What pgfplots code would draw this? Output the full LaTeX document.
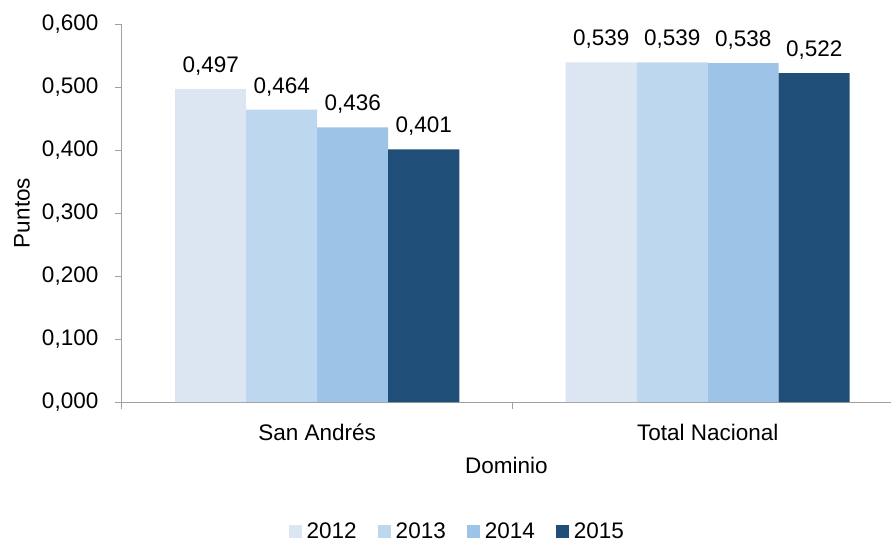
\documentclass[border=0pt]{standalone}
\usepackage{pgfplots}
\pgfplotsset{compat=1.18}
\usepackage{fontspec}
\setmainfont{Liberation Sans}
\definecolor{c12}{HTML}{DCE6F2}
\definecolor{c13}{HTML}{BDD7EE}
\definecolor{c14}{HTML}{9DC3E6}
\definecolor{c15}{HTML}{1F4E79}
\definecolor{axgray}{HTML}{A0A0A0}
\begin{document}
\fontsize{22.5bp}{27bp}\selectfont
\begin{tikzpicture}
\path[use as bounding box] (-122bp,-140bp) rectangle (769bp,402bp);
\begin{axis}[
  at={(0,0)}, anchor=south west,
  scale only axis, width=769bp, height=378bp,
  font=\fontsize{22.5bp}{27bp}\selectfont,
  xmin=-0.5, xmax=1.4693, ymin=0, ymax=0.6,
  ybar=0pt, bar width=71bp,
  axis x line*=bottom, axis y line*=left,
  axis line style={draw=axgray, line width=1bp},
  tick align=outside, major tick length=7bp,
  tick style={draw=axgray, line width=1bp},
  /pgf/number format/assume math mode=true,
  ytick={0,0.1,0.2,0.3,0.4,0.5,0.6},
  y tick label style={xshift=-9bp, /pgf/number format/fixed, /pgf/number format/fixed zerofill, /pgf/number format/precision=3, /pgf/number format/use comma},
  xtick={-0.5,0.5}, xticklabels={},
  extra x ticks={0,1},
  extra x tick labels={San Andrés, Total Nacional},
  extra x tick style={major tick length=0pt, x tick label style={yshift=-14bp}},
  xlabel={Dominio}, ylabel={Puntos},
  xlabel style={at={(axis description cs:0.5,-0.167)}, anchor=center},
  ylabel style={at={(axis description cs:-0.130,0.5)}, anchor=center},
  nodes near coords,
  nodes near coords style={/pgf/number format/fixed, /pgf/number format/fixed zerofill, /pgf/number format/precision=3, /pgf/number format/use comma, yshift=6bp, text=black},
  legend style={at={(0.436,-0.344)}, anchor=center, draw=none, fill=none,
    legend columns=-1,
    /tikz/every odd column/.append style={column sep=3bp},
    /tikz/every even column/.append style={column sep=19bp}},
  legend image code/.code={\fill[#1] (0bp,-6bp) rectangle (13bp,7bp);},
]
\addplot[fill=c12, draw=none] coordinates {(0,0.497) (1,0.539)};
\addplot[fill=c13, draw=none] coordinates {(0,0.464) (1,0.539)};
\addplot[fill=c14, draw=none] coordinates {(0,0.436) (1,0.538)};
\addplot[fill=c15, draw=none] coordinates {(0,0.401) (1,0.522)};
\legend{2012,2013,2014,2015}
\end{axis}
\end{tikzpicture}
\end{document}
